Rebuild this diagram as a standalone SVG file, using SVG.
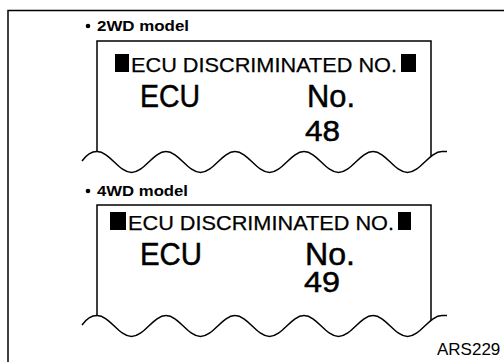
<svg xmlns="http://www.w3.org/2000/svg" width="504" height="362" viewBox="0 0 504 362">
<style>
.ln{fill:none;stroke:#000;stroke-width:1.5}
.lbl{font-family:"Liberation Sans",Arial,sans-serif;font-weight:bold;font-size:15.5px;fill:#000}
.hdr{font-family:"Liberation Sans",Arial,sans-serif;font-size:21px;fill:#000;stroke:#000;stroke-width:0.25}
.big{font-family:"Liberation Sans",Arial,sans-serif;font-size:32px;fill:#000;stroke:#000;stroke-width:0.5}
.num{font-family:"Liberation Sans",Arial,sans-serif;font-size:30px;fill:#000;stroke:#000;stroke-width:0.5}
.code{font-family:"Liberation Sans",Arial,sans-serif;font-size:17px;fill:#000}
</style>
<defs>
<path id="wave" class="ln" d="M82,161 C87,154 91.5,151.5 97,151.5 C109.57,151.5 118.93,172.5 131.5,172.5 C144.07,172.5 153.43,151.5 166,151.5 C178.57,151.5 187.93,172.5 200.5,172.5 C213.07,172.5 222.43,151.5 235,151.5 C247.57,151.5 256.93,172.5 269.5,172.5 C282.07,172.5 291.43,151.5 304,151.5 C316.57,151.5 325.93,172.5 338.5,172.5 C351.07,172.5 360.43,151.5 373,151.5 C385.57,151.5 394.93,172.5 407.5,172.5 C420.07,172.5 429.43,151.5 442,151.5 L447,151.5"/>
</defs>
<rect width="504" height="362" fill="#fff"/>
<g id="frame">
<path class="ln" d="M8,362 V10.5 H504" stroke-width="1.8"/>
</g>
<g id="model-2wd">
<circle cx="88" cy="26" r="2.3" fill="#000"/>
<text class="lbl" x="97" y="31" textLength="92" lengthAdjust="spacingAndGlyphs">2WD model</text>
<path class="ln" d="M97,151.5 V41 H431 V156"/>
<use href="#wave"/>
<rect x="115" y="54" width="14" height="18" fill="#000"/>
<text class="hdr" x="131" y="72" textLength="266" lengthAdjust="spacingAndGlyphs">ECU DISCRIMINATED NO.</text>
<rect x="401" y="54" width="15" height="18" fill="#000"/>
<text class="big" x="140" y="107" textLength="60" lengthAdjust="spacingAndGlyphs">ECU</text>
<text class="big" x="307" y="107" textLength="48" lengthAdjust="spacingAndGlyphs">No.</text>
<text class="num" x="305" y="141" textLength="35" lengthAdjust="spacingAndGlyphs">48</text>
</g>
<g id="model-4wd">
<circle cx="88" cy="191" r="2.3" fill="#000"/>
<text class="lbl" x="97" y="196" textLength="91" lengthAdjust="spacingAndGlyphs">4WD model</text>
<path class="ln" d="M97,315.5 V205 H431 V320"/>
<use href="#wave" transform="translate(0,164)"/>
<rect x="110" y="212" width="16" height="18" fill="#000"/>
<text class="hdr" x="128" y="230" textLength="266" lengthAdjust="spacingAndGlyphs">ECU DISCRIMINATED NO.</text>
<rect x="398" y="212" width="13" height="18" fill="#000"/>
<text class="big" x="140" y="265" textLength="62" lengthAdjust="spacingAndGlyphs">ECU</text>
<text class="big" x="305" y="265" textLength="50" lengthAdjust="spacingAndGlyphs">No.</text>
<text class="num" x="304" y="292" textLength="36" lengthAdjust="spacingAndGlyphs">49</text>
</g>
<text class="code" x="437" y="355">ARS229</text>
</svg>
